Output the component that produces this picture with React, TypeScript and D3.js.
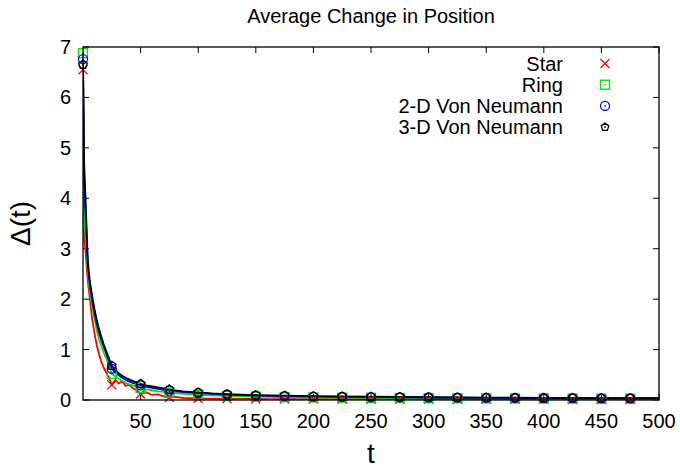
import React from "react";
import * as d3 from "d3";

const title = "Average Change in Position";
const xTicks = [50, 100, 150, 200, 250, 300, 350, 400, 450, 500];
const yTicks = [0, 1, 2, 3, 4, 5, 6, 7];
const seriesNames = ["Star", "Ring", "2-D Von Neumann", "3-D Von Neumann"];
const seriesColors = ["#ff0000", "#00e000", "#0000ff", "#000000"];

const tValues = [0, 1, 2, 3, 4, 5, 6, 7, 8, 10, 12, 14, 16, 18, 20, 22, 25, 28, 31, 34, 37, 40, 43, 46, 50, 55, 60, 65, 70, 75, 80, 87, 93, 100, 112, 125, 137, 150, 162, 175, 200, 225, 250, 275, 300, 325, 350, 375, 400, 425, 450, 475, 500];

const starValues = [6.55, 3.2, 3.0, 2.7, 2.4, 2.2, 2.0, 1.8, 1.6, 1.32, 1.08, 0.9, 0.75, 0.64, 0.55, 0.46, 0.3, 0.4, 0.33, 0.37, 0.28, 0.3, 0.24, 0.2, 0.12, 0.15, 0.1, 0.11, 0.07, 0.05, 0.06, 0.04, 0.035, 0.03, 0.028, 0.025, 0.022, 0.02, 0.019, 0.018, 0.017, 0.016, 0.015, 0.014, 0.014, 0.013, 0.013, 0.012, 0.012, 0.011, 0.011, 0.01, 0.01];
const ringValues = [6.88, 3.5, 3.3, 3.0, 2.6, 2.35, 2.15, 2.0, 1.85, 1.6, 1.38, 1.2, 1.06, 0.94, 0.83, 0.72, 0.52, 0.47, 0.42, 0.38, 0.34, 0.31, 0.29, 0.27, 0.24, 0.21, 0.19, 0.17, 0.16, 0.145, 0.135, 0.12, 0.11, 0.1, 0.09, 0.08, 0.072, 0.065, 0.06, 0.055, 0.05, 0.046, 0.043, 0.04, 0.037, 0.035, 0.033, 0.031, 0.03, 0.028, 0.027, 0.026, 0.025];
const vn2Values = [6.76, 4.4, 3.8, 3.3, 2.75, 2.48, 2.28, 2.12, 1.98, 1.72, 1.5, 1.33, 1.18, 1.05, 0.93, 0.8, 0.62, 0.55, 0.49, 0.44, 0.4, 0.37, 0.34, 0.32, 0.29, 0.26, 0.24, 0.22, 0.2, 0.185, 0.17, 0.155, 0.145, 0.135, 0.12, 0.105, 0.095, 0.085, 0.08, 0.075, 0.067, 0.062, 0.057, 0.053, 0.05, 0.046, 0.043, 0.04, 0.038, 0.036, 0.034, 0.032, 0.031];
const vn3Values = [6.65, 4.7, 4.1, 3.5, 2.85, 2.55, 2.35, 2.2, 2.05, 1.8, 1.58, 1.4, 1.25, 1.1, 0.98, 0.86, 0.68, 0.6, 0.53, 0.48, 0.44, 0.41, 0.38, 0.35, 0.32, 0.29, 0.27, 0.25, 0.23, 0.21, 0.19, 0.17, 0.16, 0.15, 0.13, 0.115, 0.105, 0.095, 0.09, 0.085, 0.075, 0.07, 0.065, 0.06, 0.055, 0.05, 0.048, 0.045, 0.042, 0.04, 0.038, 0.036, 0.035];

const allValues = [starValues, ringValues, vn2Values, vn3Values];

const W = 680, H = 468;
const L = 83, R = 659, T = 47, B = 400;

function Marker({ kind, x, y, color, s }: { kind: number; x: number; y: number; color: string; s: number }) {
  const sw = 1.3;
  if (kind === 0) {
    return <path d={`M${x - s},${y - s}L${x + s},${y + s}M${x - s},${y + s}L${x + s},${y - s}`} stroke={color} strokeWidth={sw} fill="none" />;
  }
  if (kind === 1) {
    return (
      <g>
        <rect x={x - s} y={y - s} width={2 * s} height={2 * s} stroke={color} strokeWidth={sw} fill="none" />
        <rect x={x - 0.75} y={y - 0.75} width={1.5} height={1.5} fill={color} />
      </g>
    );
  }
  if (kind === 2) {
    return (
      <g>
        <circle cx={x} cy={y} r={s} stroke={color} strokeWidth={sw} fill="none" />
        <rect x={x - 0.75} y={y - 0.75} width={1.5} height={1.5} fill={color} />
      </g>
    );
  }
  const pts = d3.range(5).map((i) => {
    const a = -Math.PI / 2 + (i * 2 * Math.PI) / 5;
    return [x + s * Math.cos(a), y + s * Math.sin(a)];
  });
  return (
    <g>
      <path d={"M" + pts.map((p) => p.join(",")).join("L") + "Z"} stroke={color} strokeWidth={sw} fill="none" />
      <rect x={x - 0.75} y={y - 0.75} width={1.5} height={1.5} fill={color} />
    </g>
  );
}

export default function App() {
  const x = d3.scaleLinear().domain([0, 500]).range([L, R]);
  const y = d3.scaleLinear().domain([0, 7]).range([B, T]);
  const line = d3.line<[number, number]>().x((d) => x(d[0])).y((d) => y(d[1]));
  const font = "'Liberation Sans', Arial, Helvetica, sans-serif";
  const legendRight = 563;
  const legendMarkX = 605;
  const legendY0 = 63.5;
  const legendDy = 21.2;

  return (
    <svg width={W} height={H} style={{ position: "absolute", left: 0, top: 0, background: "#fff" }} fontFamily={font}>
      <rect x={0} y={0} width={W} height={H} fill="#fff" />
      <defs>
        <clipPath id="plotclip">
          <rect x={L} y={T - 10} width={R - L} height={B - T + 10} />
        </clipPath>
      </defs>
      <text x={(L + R) / 2} y={23} textAnchor="middle" fontSize={20} fill="#000">{title}</text>

      {/* ticks */}
      {xTicks.map((t) => (
        <g key={"xt" + t}>
          <line x1={x(t)} x2={x(t)} y1={B} y2={B - 6} stroke="#000" strokeWidth={1} />
          <line x1={x(t)} x2={x(t)} y1={T} y2={T + 6} stroke="#000" strokeWidth={1} />
          <text x={x(t)} y={428} textAnchor="middle" fontSize={20} fill="#000">{t}</text>
        </g>
      ))}
      {yTicks.map((v) => (
        <g key={"yt" + v}>
          <line x1={L} x2={L + 6} y1={y(v)} y2={y(v)} stroke="#000" strokeWidth={1} />
          <line x1={R} x2={R - 6} y1={y(v)} y2={y(v)} stroke="#000" strokeWidth={1} />
          <text x={71} y={y(v) + 7} textAnchor="end" fontSize={20} fill="#000">{v}</text>
        </g>
      ))}

      {/* series lines */}
      <g clipPath="url(#plotclip)">
        {allValues.map((vals, si) => (
          <path
            key={"l" + si}
            d={line(tValues.map((t, i) => [t, vals[i]] as [number, number])) || ""}
            stroke={seriesColors[si]}
            strokeWidth={1.8}
            fill="none"
            strokeLinejoin="round"
          />
        ))}
      </g>
      {allValues.map((vals, si) => (
        <g key={"m" + si}>
          {tValues.map((t, i) =>
            t % 25 === 0 && t < 500 ? (
              <Marker key={i} kind={si} x={x(t)} y={y(vals[i])} color={seriesColors[si]} s={4.5} />
            ) : null
          )}
        </g>
      ))}

      <rect x={L} y={T} width={R - L} height={B - T} fill="none" stroke="#000" strokeWidth={1.3} />

      {/* legend */}
      {seriesNames.map((n, i) => (
        <g key={"lg" + i}>
          <text x={legendRight} y={legendY0 + i * legendDy + 7} textAnchor="end" fontSize={20} fill="#000">{n}</text>
          <Marker kind={i} x={legendMarkX} y={legendY0 + i * legendDy} color={seriesColors[i]} s={i === 3 ? 4 : 4.5} />
        </g>
      ))}

      <text x={(L + R) / 2} y={463} textAnchor="middle" fontSize={28} fill="#000">t</text>
      <text transform={`translate(30,${(T + B) / 2}) rotate(-90)`} textAnchor="middle" fontSize={28} fill="#000">Δ(t)</text>
    </svg>
  );
}
